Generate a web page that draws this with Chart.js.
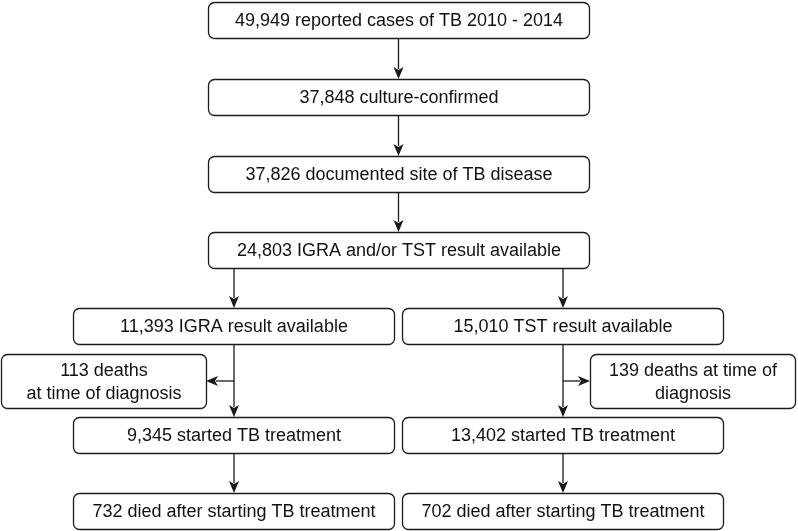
<!DOCTYPE html>
<html>
<head>
<meta charset="utf-8">
<script src="https://cdn.jsdelivr.net/npm/chart.js@4/dist/chart.umd.min.js"></script>
<style>
html,body{margin:0;padding:0;background:#fff;}
#wrap{width:798px;height:531px;position:relative;}
</style>
</head>
<body>
<div id="wrap"><canvas id="c" width="798" height="531"></canvas></div>
<script>
// ---- Data ----
const mainSteps = ["reported cases of TB 2010 - 2014", "culture-confirmed", "documented site of TB disease", "IGRA and/or TST result available"];
const mainCounts = [49949, 37848, 37826, 24803];
const branchTests = ["IGRA", "TST"];
const branchAvailable = [11393, 15010];
const deathsAtDiagnosis = [113, 139];
const deathLabelLines = [["deaths", "at time of diagnosis"], ["deaths at time of", "diagnosis"]];
const startedTreatment = [9345, 13402];
const diedAfterTreatment = [732, 702];

// ---- Layout (data units of the hidden scales) ----
const mainBox = {x1: 208, x2: 589};
const mainTops = [2, 79, 156, 232];
const boxH = 36;
const branchBoxes = [{x1: 73, x2: 394, trunk: 234}, {x1: 402, x2: 723, trunk: 563}];
const branchTops = [308, 417, 493];
const deathBoxes = [{x1: 1, x2: 206}, {x1: 590, x2: 795}];
const deathTop = 354, deathH = 54, sideArrowY = 381;

const fmt = n => n.toLocaleString('en-US');

// Build nodes
const nodes = [];
mainSteps.forEach((s, i) => nodes.push({x1: mainBox.x1, x2: mainBox.x2, y1: mainTops[i], y2: mainTops[i] + boxH, lines: [fmt(mainCounts[i]) + ' ' + s]}));
branchTests.forEach((t, b) => {
  const bx = branchBoxes[b];
  nodes.push({x1: bx.x1, x2: bx.x2, y1: branchTops[0], y2: branchTops[0] + boxH, lines: [fmt(branchAvailable[b]) + ' ' + t + ' result available']});
  nodes.push({x1: bx.x1, x2: bx.x2, y1: branchTops[1], y2: branchTops[1] + boxH, lines: [fmt(startedTreatment[b]) + ' started TB treatment']});
  nodes.push({x1: bx.x1, x2: bx.x2, y1: branchTops[2], y2: branchTops[2] + boxH, lines: [fmt(diedAfterTreatment[b]) + ' died after starting TB treatment']});
  const db = deathBoxes[b];
  const dl = deathLabelLines[b].slice();
  dl[0] = fmt(deathsAtDiagnosis[b]) + ' ' + dl[0];
  nodes.push({x1: db.x1, x2: db.x2, y1: deathTop, y2: deathTop + deathH, lines: dl});
});

// Arrows: [x1,y1,x2,y2, hasHead]
const arrows = [];
const mcx = (mainBox.x1 + mainBox.x2) / 2;
for (let i = 0; i < mainTops.length - 1; i++) arrows.push([mcx, mainTops[i] + boxH, mcx, mainTops[i + 1], true]);
branchBoxes.forEach((bx, b) => {
  arrows.push([bx.trunk, mainTops[3] + boxH, bx.trunk, branchTops[0], true]);
  arrows.push([bx.trunk, branchTops[0] + boxH, bx.trunk, branchTops[1], true]);
  arrows.push([bx.trunk, branchTops[1] + boxH, bx.trunk, branchTops[2], true]);
  const tx = b === 0 ? deathBoxes[0].x2 : deathBoxes[1].x1;
  arrows.push([bx.trunk, sideArrowY, tx, sideArrowY, true]);
});

const flowPlugin = {
  id: 'flow',
  afterDatasetsDraw(chart) {
    const ctx = chart.ctx, xs = chart.scales.x, ys = chart.scales.y;
    const X = v => xs.getPixelForValue(v), Y = v => ys.getPixelForValue(v);
    ctx.save();
    ctx.strokeStyle = '#1a1a1a';
    ctx.fillStyle = '#1a1a1a';
    ctx.lineWidth = 1.3;
    // arrows
    arrows.forEach(([a, b, c, d, head]) => {
      const px1 = X(a), py1 = Y(b), px2 = X(c), py2 = Y(d);
      const ang = Math.atan2(py2 - py1, px2 - px1);
      const L = 12, W = 5;
      const bx = px2 - L * Math.cos(ang), by = py2 - L * Math.sin(ang);
      ctx.beginPath();
      ctx.moveTo(px1, py1);
      ctx.lineTo(bx + 2 * Math.cos(ang), by + 2 * Math.sin(ang));
      ctx.stroke();
      if (head) {
        ctx.beginPath();
        ctx.moveTo(px2, py2);
        ctx.lineTo(bx + W * Math.sin(ang), by - W * Math.cos(ang));
        ctx.lineTo(px2 - (L - 3) * Math.cos(ang), py2 - (L - 3) * Math.sin(ang));
        ctx.lineTo(bx - W * Math.sin(ang), by + W * Math.cos(ang));
        ctx.closePath();
        ctx.fill();
      }
    });
    // boxes
    ctx.font = '18px "Liberation Sans", Arial, sans-serif';
    ctx.textAlign = 'center';
    ctx.textBaseline = 'middle';
    nodes.forEach(n => {
      const x1 = X(n.x1) + 0.5, x2 = X(n.x2) + 0.5, y1 = Y(n.y1) + 0.5, y2 = Y(n.y2) + 0.5;
      ctx.beginPath();
      ctx.roundRect(x1, y1, x2 - x1, y2 - y1, 6);
      ctx.fillStyle = '#fff';
      ctx.fill();
      ctx.stroke();
      ctx.fillStyle = '#111';
      const cx = (x1 + x2) / 2, cy = (y1 + y2) / 2;
      const lh = 23;
      n.lines.forEach((t, i) => {
        ctx.fillText(t, cx, cy + (i - (n.lines.length - 1) / 2) * lh + 1);
      });
    });
    ctx.restore();
  }
};

new Chart(document.getElementById('c'), {
  type: 'scatter',
  data: {
    datasets: [{
      data: nodes.map(n => ({x: (n.x1 + n.x2) / 2, y: (n.y1 + n.y2) / 2})),
      pointRadius: 0,
      pointHoverRadius: 0
    }]
  },
  options: {
    responsive: false,
    animation: false,
    events: [],
    layout: {padding: 0},
    plugins: {legend: {display: false}, tooltip: {enabled: false}},
    scales: {
      x: {type: 'linear', min: 0, max: 798, display: false},
      y: {type: 'linear', min: 0, max: 531, reverse: true, display: false}
    }
  },
  plugins: [flowPlugin]
});
</script>
</body>
</html>
